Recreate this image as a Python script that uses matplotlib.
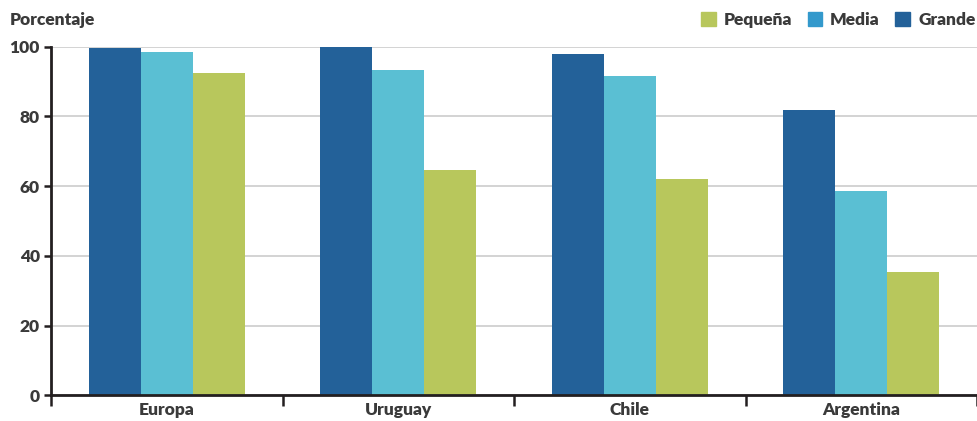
import numpy as np
import matplotlib
matplotlib.use('Agg')
import matplotlib.pyplot as plt
from matplotlib.patches import Patch

plt.rcParams['font.family'] = ['Lato', 'DejaVu Sans']

# data
regions = ['Europa', 'Uruguay', 'Chile', 'Argentina']
grande = [99.7, 100.0, 97.9, 81.8]
media = [98.5, 93.3, 91.6, 58.6]
pequena = [92.4, 64.6, 62.0, 35.3]
yticks = [0, 20, 40, 60, 80, 100]

c_grande = '#236199'
c_media = '#5abfd3'
c_pequena = '#b8c75c'
c_media_leg = '#3399cc'   # legend swatch is a different blue in the original
txt = '#3a3a3a'
axc = '#231f20'
fs = 12.5

fig = plt.figure(figsize=(9.77, 4.21), dpi=100)
ax = fig.add_axes([51/977, 25.8/421, 926/977, 348.5/421])

x = np.arange(len(regions))
w = 0.225
ax.bar(x - w, grande, w, color=c_grande, zorder=3)
ax.bar(x, media, w, color=c_media, zorder=3)
ax.bar(x + w, pequena, w, color=c_pequena, zorder=3)

ax.set_xlim(-0.5, len(regions) - 0.5)
ax.set_ylim(0, 100)
ax.set_yticks(yticks)
ax.set_yticklabels([str(v) for v in yticks], fontsize=fs, fontweight='heavy', color=txt)
ax.yaxis.grid(True, color='#d3d3d3', linewidth=1.4, zorder=0)
ax.set_axisbelow(True)

# category labels in the middle, ticks on the boundaries
ax.set_xticks(np.arange(len(regions) + 1) - 0.5)
ax.set_xticklabels([])
ax.set_xticks(x, minor=True)
ax.set_xticklabels(regions, minor=True, fontsize=fs, fontweight='heavy', color=txt)
ax.tick_params(axis='x', which='major', length=8, width=1.8, color=axc)
ax.tick_params(axis='x', which='minor', length=0, pad=5)
ax.tick_params(axis='y', length=5, width=1.8, color=axc, pad=3)

for s in ['top', 'right']:
    ax.spines[s].set_visible(False)
for s in ['left', 'bottom']:
    ax.spines[s].set_color(axc)
    ax.spines[s].set_linewidth(2)
ax.spines['bottom'].set_zorder(4)

fig.text(10/977, 1 - 20/421, 'Porcentaje', fontsize=fs, fontweight='heavy',
         color=txt, va='center', ha='left')

handles = [Patch(color=c_pequena, label='Pequeña'),
           Patch(color=c_media_leg, label='Media'),
           Patch(color=c_grande, label='Grande')]
leg = fig.legend(handles=handles, loc='center right', bbox_to_anchor=(1.0, 1 - 20/421),
                 ncol=3, frameon=False, handlelength=0.85, handleheight=0.85,
                 handletextpad=0.45, columnspacing=0.9, borderaxespad=0, borderpad=0.1,
                 prop={'size': fs, 'weight': 'heavy'})
for t in leg.get_texts():
    t.set_color(txt)

fig.savefig('out.png', dpi=100)
